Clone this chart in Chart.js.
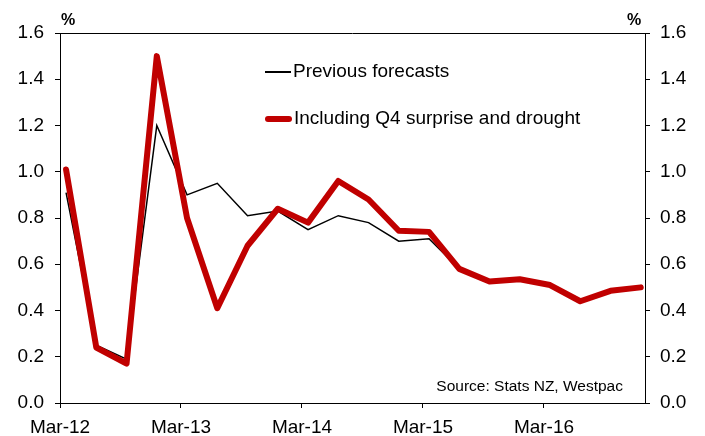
<!DOCTYPE html>
<html>
<head>
<meta charset="utf-8">
<script src="https://cdn.jsdelivr.net/npm/chart.js@4"></script>
<style>
  body { margin: 0; background: #fff; }
  #wrap { position: relative; width: 705px; height: 436px; font-family: "Liberation Sans", Arial, sans-serif; color: #000; }
  #wrap canvas { position: absolute; left: 0; top: 0; }
  .pct { position: absolute; top: 11px; font-size: 16px; font-weight: bold; }
  .leg { position: absolute; left: 265px; font-size: 19px; line-height: 20px; white-space: nowrap; }
  .leg span { display: inline-block; vertical-align: middle; margin-right: 2px; }
  #source { position: absolute; right: 82px; top: 377px; font-size: 15.5px; }
</style>
</head>
<body>
<div id="wrap">
  <canvas id="gdpChart" width="705" height="436"></canvas>
  <div class="pct" style="left:61px">%</div>
  <div class="pct" style="left:627px">%</div>
  <div class="leg" style="top:61px"><span style="width:26px;height:2px;background:#000"></span>Previous forecasts</div>
  <div class="leg" style="top:108px"><span style="width:27px;height:6px;background:#c00000;border-radius:3px"></span>Including Q4 surprise and drought</div>
  <div id="source">Source: Stats NZ, Westpac</div>
</div>
<script>
// quarterly GDP growth, % q/q
const quarters = [
    'Mar-12', 'Jun-12', 'Sep-12', 'Dec-12',
    'Mar-13', 'Jun-13', 'Sep-13', 'Dec-13',
    'Mar-14', 'Jun-14', 'Sep-14', 'Dec-14',
    'Mar-15', 'Jun-15', 'Sep-15', 'Dec-15',
    'Mar-16', 'Jun-16', 'Sep-16', 'Dec-16'
];
const previousForecasts = [0.91, 0.25, 0.19, 1.20, 0.90, 0.95, 0.81, 0.83, 0.75, 0.81, 0.78, 0.70, 0.71, 0.58, 0.52, 0.53, 0.51, 0.44, 0.49, 0.50];
const withDrought = [1.01, 0.24, 0.17, 1.50, 0.80, 0.41, 0.68, 0.84, 0.78, 0.96, 0.88, 0.745, 0.74, 0.58, 0.525, 0.535, 0.51, 0.44, 0.485, 0.50];
const xTickLabels = ['Mar-12', 'Mar-13', 'Mar-14', 'Mar-15', 'Mar-16'];
const yTicks = [0, 0.2, 0.4, 0.6, 0.8, 1.0, 1.2, 1.4, 1.6];

const FONT = "'Liberation Sans', Arial, sans-serif";
// ticks sit a little before the quarter's point
const TICK_SHIFT = -0.2;

const toPoints = arr => arr.map((v, i) => ({ x: i, y: v }));

// top border of the plot box
const topBorder = {
    id: 'topBorder',
    afterDraw(chart) {
        const { ctx, chartArea } = chart;
        ctx.save();
        ctx.strokeStyle = '#000';
        ctx.lineWidth = 1;
        ctx.beginPath();
        ctx.moveTo(chartArea.left, chartArea.top + 0.5);
        ctx.lineTo(chartArea.right, chartArea.top + 0.5);
        ctx.stroke();
        ctx.restore();
    }
};

function yAxis(position, width, pad) {
    return {
        type: 'linear',
        position: position,
        display: true,
        min: yTicks[0],
        max: yTicks[yTicks.length - 1],
        afterBuildTicks: axis => { axis.ticks = yTicks.map(v => ({ value: v })); },
        afterFit: scale => { scale.width = width; },
        ticks: {
            color: '#000',
            padding: pad,
            font: { family: FONT, size: 19 },
            callback: v => v.toFixed(1)
        },
        grid: { drawOnChartArea: false, color: '#000', tickLength: 5 },
        border: { color: '#000', width: 1 }
    };
}

new Chart(document.getElementById('gdpChart').getContext('2d'), {
    type: 'line',
    data: {
        datasets: [{
            label: 'Including Q4 surprise and drought',
            data: toPoints(withDrought),
            borderColor: '#c00000',
            backgroundColor: '#c00000',
            borderWidth: 6,
            borderJoinStyle: 'round',
            borderCapStyle: 'round',
            pointRadius: 0,
            tension: 0,
            order: 1
        }, {
            label: 'Previous forecasts',
            data: toPoints(previousForecasts),
            borderColor: '#000',
            backgroundColor: '#000',
            borderWidth: 1.5,
            pointRadius: 0,
            tension: 0,
            order: 2
        }]
    },
    options: {
        responsive: false,
        animation: false,
        layout: { padding: { top: 33, left: 0, right: 0, bottom: 0 } },
        plugins: {
            legend: { display: false },
            title: { display: false },
            tooltip: { enabled: false }
        },
        scales: {
            x: {
                type: 'linear',
                min: TICK_SHIFT,
                max: 19.14,
                afterBuildTicks: axis => {
                    axis.ticks = xTickLabels.map(l => ({ value: quarters.indexOf(l) + TICK_SHIFT }));
                },
                afterFit: scale => { scale.height = 33; },
                ticks: {
                    color: '#000',
                    padding: 8,
                    maxRotation: 0,
                    font: { family: FONT, size: 19 },
                    callback: v => quarters[Math.round(v - TICK_SHIFT)]
                },
                grid: { drawOnChartArea: false, color: '#000', tickLength: 5 },
                border: { color: '#000', width: 1 }
            },
            y: yAxis('left', 60, 11),
            y2: yAxis('right', 60, 10)
        }
    },
    plugins: [topBorder]
});
</script>
</body>
</html>
